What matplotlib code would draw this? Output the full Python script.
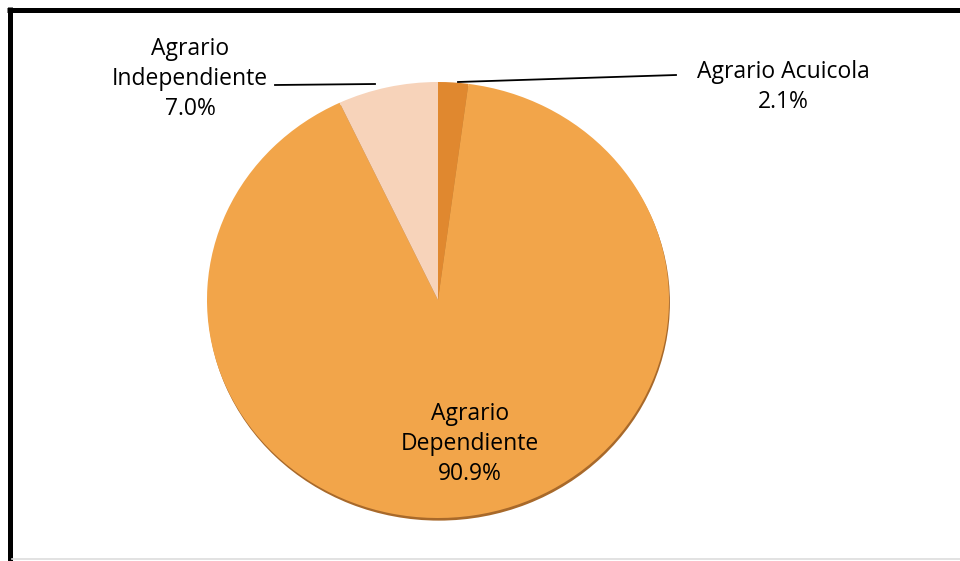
import matplotlib.pyplot as plt

# data
labels = ["Agrario Acuicola", "Agrario Dependiente", "Agrario Independiente"]
shares = [2.1, 90.9, 7.0]
colors = ["#E0882F", "#F2A54A", "#F7D3BA"]

plt.rcParams['font.family'] = ['Open Sans', 'DejaVu Sans']

W, H = 960, 561
fig = plt.figure(figsize=(W / 100, H / 100), dpi=100)

# pie is drawn slightly squashed (3D tilt in original)
cx, cy, rx, ry = 438, 300, 231, 218
pax = fig.add_axes([(cx - rx) / W, (H - cy - ry) / H, 2 * rx / W, 2 * ry / H])
# faint shadow under the rim
pax.pie([1], colors=["#A8692A"], radius=1.0, center=(0.004, -0.012))
wedges, _ = pax.pie(shares, colors=colors, startangle=90, counterclock=False,
                    radius=1.0, wedgeprops=dict(linewidth=0))
pax.set_aspect('auto')
pax.set_xlim(-1, 1)
pax.set_ylim(-1, 1)
pax.axis('off')

# overlay for labels, leader lines and frame (pixel coords)
ov = fig.add_axes([0, 0, 1, 1], zorder=5)
ov.set_xlim(0, W)
ov.set_ylim(H, 0)
ov.axis('off')
ov.patch.set_alpha(0)

fs = 16.5
ls = 1.32
ov.text(190, 79, "Agrario\nIndependiente\n7.0%", ha='center', va='center',
        fontsize=fs, linespacing=ls)
ov.plot([275, 375], [85, 84], color='black', lw=1.3)

ov.text(783, 87, "Agrario Acuicola\n2.1%", ha='center', va='center',
        fontsize=fs, linespacing=ls)
ov.plot([458, 676], [82, 75], color='black', lw=1.3)

ov.text(470, 444, "Agrario\nDependiente\n90.9%", ha='center', va='center',
        fontsize=fs, linespacing=ls)

# chart frame: thick left and top edges, faint bottom edge
ov.plot([9.5, 9.5], [7, H], color='black', lw=3.6, solid_capstyle='butt')
ov.plot([7, W], [9.5, 9.5], color='black', lw=3.6, solid_capstyle='butt')
ov.plot([12, W], [559, 559], color='#DDDDDD', lw=1.2)

fig.savefig("out.png", dpi=100)
